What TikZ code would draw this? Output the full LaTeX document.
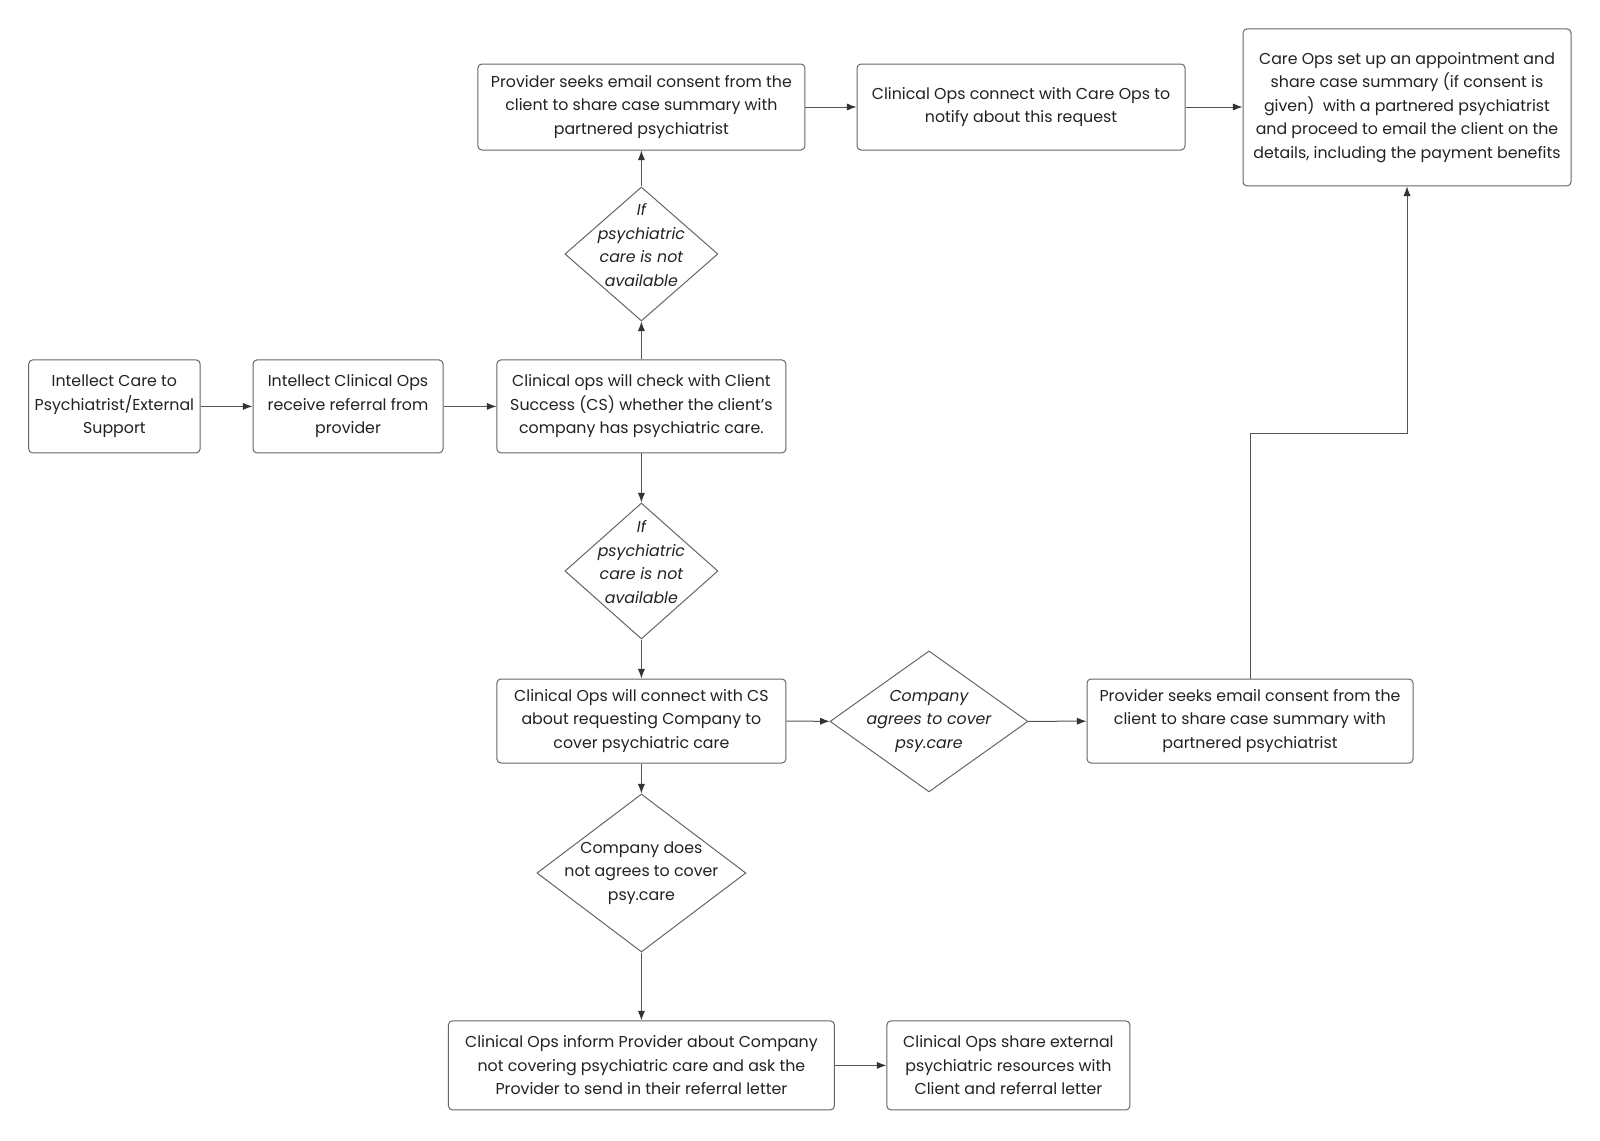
\documentclass[tikz,border=0pt]{standalone}
\usepackage{fontspec}
\setmainfont{Poppins}
\usetikzlibrary{arrows.meta,shapes.geometric}
\definecolor{bordc}{HTML}{666666}
\definecolor{linec}{HTML}{555555}
\definecolor{tipc}{HTML}{333333}
\definecolor{txtc}{HTML}{222222}
\tikzset{
  box/.style={draw=bordc, line width=0.5pt, rounded corners=2pt, align=center, inner sep=0pt,
    font=\fontsize{7.9}{11.7}\selectfont, text=txtc},
  dia/.style={draw=bordc, line width=0.5pt, diamond, inner sep=0pt, shape aspect=1},
  diatext/.style={align=center, inner sep=0pt, font=\fontsize{7.9}{11.7}\selectfont, text=txtc},
  conn/.style={draw=linec, line width=0.5pt, -{Latex[length=4.8pt,width=3.6pt,color=tipc]}},
}
\begin{document}
\begin{tikzpicture}[x=1pt,y=-1pt]
\useasboundingbox[fill=white] (0,0) rectangle (800,570);

\node[box, minimum width=85.7pt, minimum height=46.5pt] (a) at (57.2,203.2)
  {Intellect Care to\\Psychiatrist/External\\Support};
\node[box, minimum width=95pt, minimum height=46.5pt] (b) at (174,203.2)
  {Intellect Clinical Ops\\receive referral from\\provider};
\node[box, minimum width=144.5pt, minimum height=46.5pt] (c) at (320.7,203.2)
  {Clinical ops will check with Client\\Success (CS) whether the client’s\\company has psychiatric care.};

\node[dia, minimum width=76.5pt, minimum height=67pt] (d1) at (320.7,127) {};
\node[diatext, font=\fontsize{7.9}{11.7}\selectfont\itshape] (d1t) at ([yshift=4.5pt]d1.center) {If\\psychiatric\\care is not\\available};

\node[box, minimum width=163.5pt, minimum height=43pt] (p1) at (320.7,53.5)
  {Provider seeks email consent from the\\client to share case summary with\\partnered psychiatrist};
\node[box, minimum width=164pt, minimum height=43pt] (e) at (510.5,53.5)
  {Clinical Ops connect with Care Ops to\\notify about this request};
\node[box, minimum width=164pt, minimum height=78.5pt] (f) at (703.5,53.7)
  {Care Ops set up an appointment and\\share case summary (if consent is\\given)\ \ with a partnered psychiatrist\\and proceed to email the client on the\\details, including the payment benefits};

\node[dia, minimum width=76.5pt, minimum height=68pt] (d2) at (320.7,285.5) {};
\node[diatext, font=\fontsize{7.9}{11.7}\selectfont\itshape] (d2t) at ([yshift=4.5pt]d2.center) {If\\psychiatric\\care is not\\available};

\node[box, minimum width=144.5pt, minimum height=42pt] (g) at (320.7,360.5)
  {Clinical Ops will connect with CS\\about requesting Company to\\cover psychiatric care};

\node[dia, minimum width=99pt, minimum height=70.5pt] (d3) at (464.5,360.7) {};
\node[diatext, font=\fontsize{7.9}{11.7}\selectfont\itshape] (d3t) at (d3) {Company\\agrees to cover\\psy.care};

\node[box, minimum width=163pt, minimum height=42pt] (h) at (625,360.5)
  {Provider seeks email consent from the\\client to share case summary with\\partnered psychiatrist};

\node[dia, minimum width=104.5pt, minimum height=79pt] (d4) at (320.7,436.5) {};
\node[diatext] (d4t) at (d4) {Company does\\not agrees to cover\\psy.care};

\node[box, minimum width=193pt, minimum height=44.5pt] (i) at (320.7,532.7)
  {Clinical Ops inform Provider about Company\\not covering psychiatric care and ask the\\Provider to send in their referral letter};
\node[box, minimum width=121.5pt, minimum height=44.5pt] (j) at (504.2,532.7)
  {Clinical Ops share external\\psychiatric resources with\\Client and referral letter};

\coordinate (k1) at (625,216.5);
\coordinate (k2) at (703.5,216.5);

\draw[conn] (a) -- (b);
\draw[conn] (b) -- (c);
\draw[conn] (c) -- (d1);
\draw[conn] (d1) -- (p1);
\draw[conn] (p1) -- (e);
\draw[conn] (e) -- (e -| f.west);
\draw[conn] (c) -- (d2);
\draw[conn] (d2) -- (g);
\draw[conn] (g) -- (d3);
\draw[conn] (d3) -- (h);
\draw[conn] (g) -- (d4);
\draw[conn] (d4) -- (i);
\draw[conn] (i) -- (j);
\draw[conn] (h.north) -- (k1) -- (k2) -- (f.south);
\end{tikzpicture}
\end{document}
